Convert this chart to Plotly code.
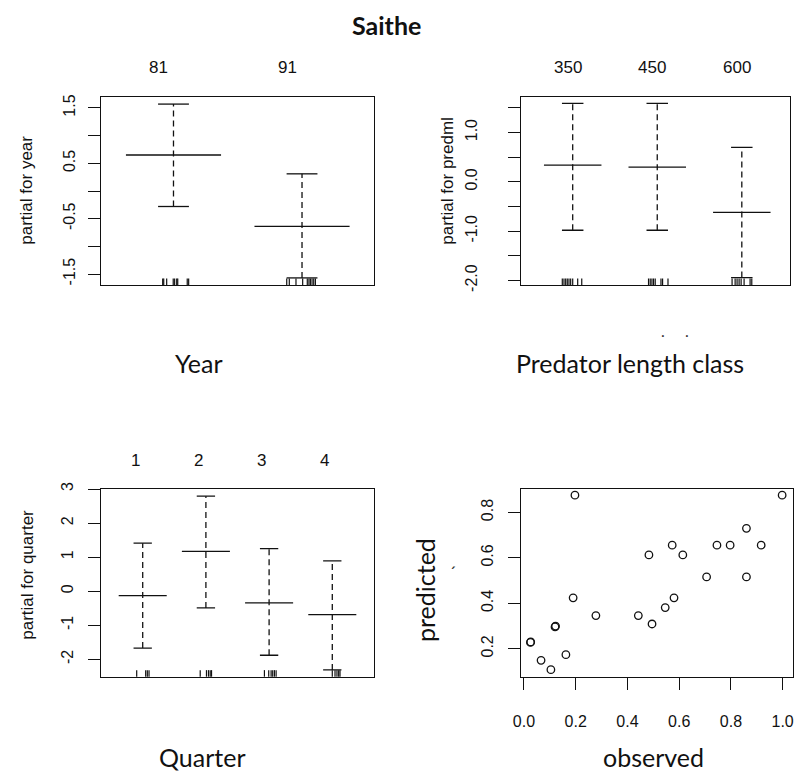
import plotly.graph_objects as go

W, H = 801, 773

# ---------------- data ----------------
# Panel 1: Year term
year_levels = ["81", "91"]
year_fit = [0.65, -0.64]
year_upper = [1.57, 0.31]
year_lower = [-0.28, -1.57]
year_rug = [0.916, 0.924, 0.947, 0.998, 1.009, 1.025, 1.033, 1.107, 1.118,
            1.881, 1.901, 1.953, 2.005, 2.041, 2.054, 2.065, 2.078, 2.091, 2.104]

# Panel 2: Predator length class term
predml_levels = ["350", "450", "600"]
predml_fit = [0.34, 0.30, -0.62]
predml_upper = [1.59, 1.59, 0.70]
predml_lower = [-0.98, -0.98, -1.94]
predml_rug = [0.877, 0.897, 0.917, 0.936, 0.956, 0.976, 1.0, 1.059, 1.107,
              1.897, 1.917, 1.937, 1.956, 1.976, 2.044, 2.063, 2.127,
              2.885, 2.921, 2.944, 2.968, 2.992, 3.027, 3.098, 3.118]

# Panel 3: Quarter term
quarter_levels = ["1", "2", "3", "4"]
quarter_fit = [-0.13, 1.17, -0.34, -0.69]
quarter_upper = [1.41, 2.79, 1.25, 0.89]
quarter_lower = [-1.67, -0.49, -1.88, -2.31]
quarter_rug = [0.905, 1.047, 1.073, 1.10,
               1.91, 2.009, 2.041, 2.068, 2.089,
               2.926, 2.994, 3.032, 3.057, 3.084, 3.111,
               4.0, 4.043, 4.074, 4.101, 4.122]

# Panel 4: observed vs predicted
observed = [0.197, 0.998, 0.860, 0.746, 0.797, 0.917, 0.573, 0.483, 0.614,
            0.706, 0.860, 0.190, 0.580, 0.546, 0.278, 0.442, 0.495,
            0.122, 0.120, 0.026, 0.025, 0.162, 0.066, 0.104]
predicted = [0.876, 0.876, 0.730, 0.656, 0.656, 0.656, 0.656, 0.613, 0.613,
             0.516, 0.516, 0.424, 0.424, 0.381, 0.346, 0.346, 0.309,
             0.300, 0.296, 0.230, 0.228, 0.174, 0.149, 0.108]

# ---------------- figure ----------------
fig = go.Figure()
BLACK = "#111111"
LW = 1.3


def px_x(X):
    return X / W


def px_y(Y):
    return 1 - Y / H


def add_termplot(fit, upper, lower, rug, xa, ya, hw, cw):
    n = len(fit)
    xs = list(range(1, n + 1))
    hx, hy, vx, vy, cx, cy = [], [], [], [], [], []
    for i, f, u, l in zip(xs, fit, upper, lower):
        hx += [i - hw, i + hw, None]
        hy += [f, f, None]
        vx += [i, i, None]
        vy += [l, u, None]
        cx += [i - cw, i + cw, None, i - cw, i + cw, None]
        cy += [u, u, None, l, l, None]
    common = dict(mode="lines", xaxis=xa, yaxis=ya, showlegend=False, hoverinfo="skip")
    fig.add_trace(go.Scatter(x=vx, y=vy, line=dict(color=BLACK, width=LW, dash="6px,4px"), **common))
    fig.add_trace(go.Scatter(x=hx, y=hy, line=dict(color=BLACK, width=LW), **common))
    fig.add_trace(go.Scatter(x=cx, y=cy, line=dict(color=BLACK, width=LW), **common))
    yref = ya + " domain"
    for r in rug:
        fig.add_shape(type="line", xref=xa, yref=yref, x0=r, x1=r, y0=0, y1=0.035,
                      line=dict(color=BLACK, width=1.2))


add_termplot(year_fit, year_upper, year_lower, year_rug, "x", "y", 0.37, 0.12)
add_termplot(predml_fit, predml_upper, predml_lower, predml_rug, "x2", "y2", 0.34, 0.127)
add_termplot(quarter_fit, quarter_upper, quarter_lower, quarter_rug, "x3", "y3", 0.38, 0.145)

fig.add_trace(go.Scatter(x=observed, y=predicted, mode="markers", xaxis="x4", yaxis="y4",
                         marker=dict(symbol="circle-open", size=7.5, color=BLACK,
                                     line=dict(color=BLACK, width=1.3)),
                         showlegend=False, hoverinfo="skip", cliponaxis=False))

TICKFONT = dict(family="Liberation Sans, Arial, sans-serif", size=16, color="#111111")
axis_common = dict(showline=True, mirror=True, linecolor=BLACK, linewidth=1.3,
                   showgrid=False, zeroline=False, ticklen=12, automargin=False,
                   tickwidth=1.3, tickcolor=BLACK, tickfont=TICKFONT)

top_dom_y = [px_y(285), px_y(97)]
bot_dom_y = [px_y(676.7), px_y(489)]
left_dom_x = [px_x(101), px_x(374)]
right_dom_x2 = [px_x(520.7), px_x(790)]
right_dom_x4 = [px_x(520.7), px_x(793)]

fig.update_layout(
    width=W, height=H, margin=dict(l=0, r=0, t=0, b=0, autoexpand=False),
    paper_bgcolor="white", plot_bgcolor="white",
    xaxis=dict(domain=left_dom_x, anchor="y", range=[0.436, 2.56], showticklabels=False,
               ticks="", **axis_common),
    yaxis=dict(domain=top_dom_y, anchor="x", range=[-1.698, 1.698],
               tickvals=[-1.5, -1.0, -0.5, 0, 0.5, 1.0, 1.5],
               ticktext=["-1.5", "", "-0.5", "", "0.5", "", "1.5"],
               ticks="outside", tickangle=-90, ticklabelstandoff=6, **axis_common),
    xaxis2=dict(domain=right_dom_x2, anchor="y2", range=[0.385, 3.57], showticklabels=False,
                ticks="", **axis_common),
    yaxis2=dict(domain=top_dom_y, anchor="x2", range=[-2.09, 1.72],
                tickvals=[-2.0, -1.5, -1.0, -0.5, 0, 0.5, 1.0, 1.5],
                ticktext=["-2.0", "", "-1.0", "", "0.0", "", "1.0", ""],
                ticks="outside", tickangle=-90, ticklabelstandoff=24, **axis_common),
    xaxis3=dict(domain=left_dom_x, anchor="y3", range=[0.34, 4.66], showticklabels=False,
                ticks="", **axis_common),
    yaxis3=dict(domain=bot_dom_y, anchor="x3", range=[-2.51, 3.0],
                tickvals=[-2, -1, 0, 1, 2, 3],
                ticktext=["-2", "-1", "0", "1", "2", "3"],
                ticks="outside", tickangle=-90, ticklabelstandoff=8, **axis_common),
    xaxis4=dict(domain=right_dom_x4, anchor="y4", range=[-0.0127, 1.04],
                tickvals=[0, 0.2, 0.4, 0.6, 0.8, 1.0],
                ticktext=["0.0", "0.2", "0.4", "0.6", "0.8", "1.0"],
                ticks="outside", ticklabelstandoff=18, **axis_common),
    yaxis4=dict(domain=bot_dom_y, anchor="x4", range=[0.077, 0.903],
                tickvals=[0.2, 0.4, 0.6, 0.8],
                ticktext=["0.2", "0.4", "0.6", "0.8"],
                ticks="outside", tickangle=-90, ticklabelstandoff=8, **axis_common),
)

ann = []
LABFONT = dict(family="Liberation Sans, Arial, sans-serif", size=17, color="#111111")
TITLEFONT = dict(family="Lato, Carlito, sans-serif", size=25, color="#111111")
YTFONT = dict(family="Liberation Sans, Arial, sans-serif", size=17, color="#111111")

# category labels on top of term plots
for xa, levels, shift, ypx in (("x", year_levels, -15, 67.5),
                                ("x2", predml_levels, -5, 67.5),
                                ("x3", quarter_levels, -7.5, 460.8)):
    for i, lab in enumerate(levels):
        ann.append(dict(x=i + 1, xref=xa, y=px_y(ypx), yref="paper", text=lab,
                        showarrow=False, xshift=shift, xanchor="center", yanchor="middle",
                        font=LABFONT))

# main title
ann.append(dict(x=px_x(386), y=px_y(25), xref="paper", yref="paper", text="<b>Saithe</b>",
                showarrow=False, xanchor="center", yanchor="middle",
                font=dict(family="Lato, Carlito, sans-serif", size=25, color="#111111")))

# x titles
for X, Y, t in ((199, 363, "Year"), (630, 363, "Predator length class"),
                (202, 757, "Quarter"), (653, 757, "observed")):
    ann.append(dict(x=px_x(X), y=px_y(Y), xref="paper", yref="paper", text=t,
                    showarrow=False, xanchor="center", yanchor="middle", font=TITLEFONT))

# y titles
for X, Y, t, f in ((26.7, 190, "partial for year", YTFONT),
                   (446.7, 181, "partial for predml", YTFONT),
                   (26.7, 575, "partial for quarter", YTFONT),
                   (425, 590, "predicted", TITLEFONT)):
    ann.append(dict(x=px_x(X), y=px_y(Y), xref="paper", yref="paper", text=t, textangle=-90,
                    showarrow=False, xanchor="center", yanchor="middle", font=f))

# small stray marks
ann.append(dict(x=px_x(452), y=px_y(585), xref="paper", yref="paper", text="´",
                showarrow=False, font=dict(family="Lato", size=18, color="#333333")))
for X in (666.7, 691):
    ann.append(dict(x=px_x(X), y=px_y(330), xref="paper", yref="paper", text=".",
                    showarrow=False, font=dict(family="Lato", size=16, color="#333333")))

fig.update_layout(annotations=ann)
fig.write_html("out.html", config={"displayModeBar": False},
               post_script="document.body.style.margin='0px';document.body.style.overflow='hidden';")
